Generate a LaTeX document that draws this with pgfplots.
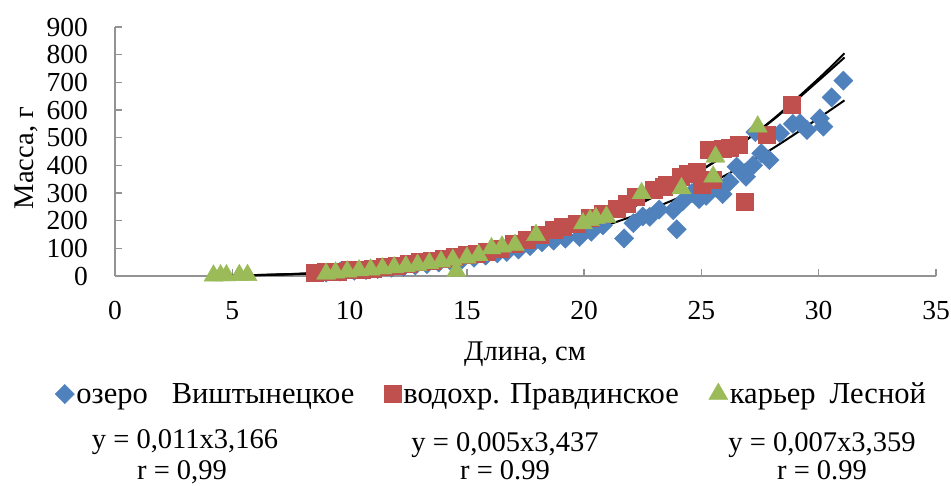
\documentclass[border=0pt]{standalone}
\usepackage{fontspec}
\setmainfont{Liberation Serif}
\usepackage{pgfplots}
\pgfplotsset{compat=1.18}
\definecolor{cB}{HTML}{4F81BD}
\definecolor{cR}{HTML}{C0504D}
\definecolor{cG}{HTML}{9BBB59}
\newcommand\tickfont{\fontsize{27.5}{32}\selectfont}
\newcommand\chartfont{\fontsize{28.5}{34}\selectfont}
\newcommand\legfont{\fontsize{30.5}{36}\selectfont}
\begin{document}
\begin{tikzpicture}[x=1pt,y=1pt]
\begin{axis}[
  at={(115pt,-276pt)}, anchor=south west,
  scale only axis, width=821pt, height=249pt,
  xmin=0, xmax=35, ymin=0, ymax=900,
  xtick={0,5,...,35}, ytick={0,100,...,900},
  axis x line*=bottom, axis y line*=left,
  axis line style={-, draw=gray!85, line width=1.3pt},
  tick align=inside, major tick length=7pt,
  tick style={draw=gray!85, line width=1.3pt},
  tick label style={font=\tickfont, inner sep=0pt},
  /pgf/number format/assume math mode=true,
  xticklabel style={anchor=base, yshift=-43pt},
  yticklabel style={anchor=east, xshift=-27pt},
  clip=false,
  legend columns=3,
  legend style={at={(axis description cs:-0.0767,-0.474)}, anchor=west, draw=none, fill=none, font=\legfont,
    /tikz/every even column/.append style={column sep=28pt}},
]
\addplot[only marks, mark=square*, mark size=6.8pt, color=cB, mark options={rotate=45, fill=cB, draw=cB}] coordinates {
(9.0,12) (9.6,16) (10.2,19) (10.7,22) (11.2,25) (11.8,30) (12.3,33) (12.8,38) (13.3,43) (13.8,49)
(14.3,55) (14.8,60) (15.3,66) (15.8,74) (16.3,82) (16.7,87) (17.2,96) (17.7,108) (18.2,122) (18.7,128)
(19.2,135) (19.8,141) (20.3,160) (20.8,183) (21.7,136) (22.1,191) (22.5,215) (22.8,214) (23.2,240) (23.8,238)
(23.95,169) (24.2,270) (24.6,300) (24.9,278) (25.2,290) (25.6,320) (25.9,296) (26.2,340) (26.5,395) (26.9,359)
(27.2,400) (27.3,520) (27.55,444) (27.9,419) (28.35,516) (28.9,550) (29.2,552) (29.5,528) (30.05,570) (30.2,540)
(30.55,646) (31.05,706)
};
\addlegendentry{озеро\hspace{24pt}Виштынецкое}
\addplot[only marks, mark=square*, mark size=8.5pt, color=cR, mark options={fill=cR, draw=cR}] coordinates {
(8.5,11) (9.0,14) (9.5,17) (10.0,21) (10.5,24) (11.0,28) (11.5,33) (12.0,38) (12.5,44) (13.0,50)
(13.5,57) (14.0,63) (14.5,70) (15.0,77) (15.4,82) (15.85,88) (16.4,100) (17.0,118) (17.55,130) (18.1,148)
(18.7,166) (19.1,178) (19.7,190) (20.25,209) (20.8,227) (21.4,245) (21.8,263) (22.2,287) (22.95,311) (23.4,323)
(23.5,329) (24.1,359) (24.4,371) (24.8,377) (25.0,330) (25.3,455) (25.5,347) (25.9,461) (26.2,462) (26.6,473)
(26.85,269) (27.8,510) (28.85,618)
};
\addlegendentry{водохр. Правдинское}
\addplot[only marks, mark=triangle*, mark size=11pt, color=cG, mark options={fill=cG, draw=cG}] coordinates {
(4.2,1) (4.5,2) (4.75,2) (5.3,3) (5.65,3)
(9.0,8) (9.4,12) (9.9,16) (10.4,20) (10.9,23) (11.4,27) (11.9,31) (12.4,35) (12.9,40) (13.4,46)
(13.9,52) (14.4,58) (14.55,18) (15.0,66) (15.5,75) (16.05,100) (16.5,106) (17.05,112) (17.95,148) (19.95,190)
(20.25,202) (20.5,209) (20.95,214) (22.45,299) (24.15,317) (25.5,359) (25.6,431) (27.4,540)
};
\addlegendentry{карьер\hspace{14pt}Лесной}
\addplot[black, line width=2pt, smooth, no marks, forget plot] coordinates {
(4.2,1.13) (6,3.5) (8,8.7) (10,17.7) (12,31.4) (14,51.2) (16,78.2) (18,113.3) (20,158.4) (22,214) (24,282) (26,363) (28,459) (30,571) (31.1,635)
};
\addplot[black, line width=2pt, smooth, no marks, forget plot] coordinates {
(4.2,0.83) (6,2.83) (8,7.6) (10,16.4) (12,30.6) (14,52.0) (16,82.4) (18,123.2) (20,177.3) (22,246) (24,332) (26,437) (28,563) (30,714) (31.1,805)
};
\addplot[black, line width=2pt, smooth, no marks, forget plot] coordinates {
(4.2,0.96) (6,3.18) (8,8.3) (10,17.7) (12,32.6) (14,54.7) (16,85.8) (18,127.1) (20,181.4) (22,249.6) (24,334.4) (26,437.5) (28,560.6) (30,706.8) (31.1,790)
};
\end{axis}
\node[font=\chartfont, anchor=base] at (525,-360.7) {Длина, см};
\node[font=\chartfont, anchor=base, rotate=90] at (33,-158) {Масса, г};
\node[font=\chartfont, anchor=base] at (185,-448) {y = 0,011x3,166};
\node[font=\chartfont, anchor=base] at (182,-479) {r = 0,99};
\node[font=\chartfont, anchor=base] at (505,-451) {y = 0,005x3,437};
\node[font=\chartfont, anchor=base] at (505,-479) {r = 0.99};
\node[font=\chartfont, anchor=base] at (822,-451) {y = 0,007x3,359};
\node[font=\chartfont, anchor=base] at (822,-479) {r = 0.99};
\pgfresetboundingbox
\useasboundingbox (0,0) rectangle (951,-485);
\end{tikzpicture}
\end{document}
